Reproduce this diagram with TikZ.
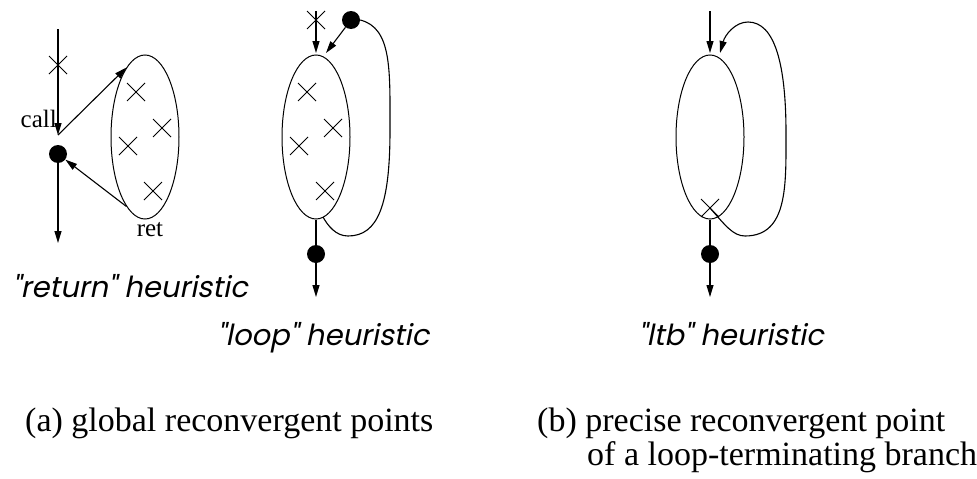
\documentclass[tikz,border=0pt]{standalone}
\usepackage{fontspec}
\setmainfont{Liberation Serif}
\newfontfamily\heur{Poppins}[FakeSlant=0.2]
\usetikzlibrary{arrows.meta,shapes.geometric,shapes.misc}
\tikzset{
  ln/.style={line width=1.1pt},
  arr/.style={ln,-{Triangle[length=12pt,width=7pt]}},
  blob/.style={ellipse,draw,line width=1pt,minimum width=68pt,minimum height=164pt,inner sep=0pt},
  xmark/.style={cross out,draw,line width=1pt,minimum size=17pt,inner sep=0pt},
  dot/.style={circle,fill,minimum size=18pt,inner sep=0pt},
  heurlbl/.style={font=\heur\fontsize{29}{34}\selectfont,anchor=base west,inner sep=0pt},
  captxt/.style={font=\fontsize{34}{40}\selectfont,anchor=base west,inner sep=0pt},
  small/.style={font=\fontsize{25}{30}\selectfont,inner sep=0pt}
}
\begin{document}
\begin{tikzpicture}[x=1pt,y=-1pt]
\useasboundingbox (0,0) rectangle (977,479);
% ---- panel 1: return heuristic
\coordinate (top1) at (58,29);
\coordinate (call1) at (58,135);
\coordinate (bot1) at (58,243);
\node[blob] (E1) at (145,137) {};
\node[dot] (D1) at (58,154) {};
\node[xmark] (x11) at (58,65) {};
\node[xmark] (x12) at (136,92) {};
\node[xmark] (x13) at (162,128) {};
\node[xmark] (x14) at (128,146) {};
\node[xmark] (x15) at (153,191) {};
\draw[arr] (top1) -- (call1);
\draw[arr] (call1) -- (E1.105);
\draw[arr] (E1.255) -- (D1);
\draw[arr] (D1) -- (bot1);
\node[small,anchor=base east] (calllbl) at (57,127) {call};
\node[small,anchor=base] (retlbl) at (150,236) {ret};
\node[heurlbl] (h1) at (12,297) {"return" heuristic};
% ---- panel 2: loop heuristic
\coordinate (top2) at (316,11);
\coordinate (in2) at (316,53);
\coordinate (in2b) at (326,53);
\coordinate (bot2) at (316,297);
\node[blob] (E2) at (316,137) {};
\node[dot] (D2a) at (351,20) {};
\node[dot] (D2b) at (316,254) {};
\node[xmark] (x21) at (316,20) {};
\node[xmark] (x22) at (307,92) {};
\node[xmark] (x23) at (333,128) {};
\node[xmark] (x24) at (299,146) {};
\node[xmark] (x25) at (325,191) {};
\draw[arr] (top2) -- (in2);
\draw[arr] (D2a) -- (in2b);
\draw[ln] (D2a.east) .. controls (392,28) and (390,70) .. (390,130)
  .. controls (390,205) and (378,236) .. (348,236)
  .. controls (336,236) and (328,226) .. (323,217);
\draw[ln] (E2.south) -- (D2b);
\draw[arr] (D2b) -- (bot2);
\node[heurlbl] (h2) at (217,345) {"loop" heuristic};
% ---- panel 3: ltb heuristic
\coordinate (top3) at (710,11);
\coordinate (in3) at (710,53);
\coordinate (in3b) at (720,53);
\coordinate (bot3) at (710,297);
\node[blob] (E3) at (710,137) {};
\node[xmark] (x31) at (710,208) {};
\node[dot] (D3) at (710,254) {};
\draw[arr] (top3) -- (in3);
\draw[arr] (x31.center) .. controls (725,225) and (733,236) .. (745,236)
  .. controls (788,236) and (786,185) .. (786,133)
  .. controls (786,65) and (775,22) .. (748,22)
  .. controls (735,22) and (725,35) .. (in3b);
\draw[ln] (E3.south) -- (D3);
\draw[arr] (D3) -- (bot3);
\node[heurlbl] (h3) at (638,345) {"ltb" heuristic};
% ---- captions
\node[captxt] (ca) at (25,431) {(a) global reconvergent points};
\node[captxt] (cb1) at (537,431) {(b) precise reconvergent point};
\node[captxt] (cb2) at (587,465) {of a loop-terminating branch};
\end{tikzpicture}
\end{document}
